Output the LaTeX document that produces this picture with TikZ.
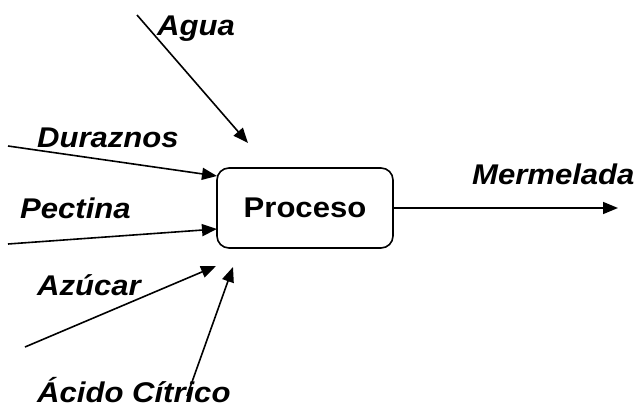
\documentclass[tikz,border=0pt]{standalone}
\usepackage{fontspec}
\setmainfont[FakeStretch=1.09]{Liberation Sans}
\usetikzlibrary{arrows.meta}
\begin{document}
\begin{tikzpicture}[x=1pt,y=-1pt,
  flow/.style={line width=1.6pt,-{Triangle[length=15pt,width=12pt]}},
  lbl/.style={anchor=base west,inner sep=0pt,font=\fontsize{28.5}{32}\selectfont\bfseries\itshape},
  procbox/.style={draw,line width=1.6pt,rounded corners=12pt,minimum width=176pt,minimum height=80pt,inner sep=0pt,font=\fontsize{28.5}{32}\selectfont\bfseries}]
\useasboundingbox (0,0) rectangle (638,407);
% process block
\node[procbox] (proc) at (305,208) {Proceso};
% arrow ends
\coordinate (aguaS) at (137,15);
\coordinate (aguaE) at (248,143);
\coordinate (durS) at (8,146);
\coordinate (durE) at (217,176);
\coordinate (pecS) at (8,244);
\coordinate (pecE) at (217,229);
\coordinate (azuS) at (25,347);
\coordinate (azuE) at (216,266);
\coordinate (acS) at (187,396);
\coordinate (acE) at (233,267);
\coordinate (merE) at (618,208);
% inputs
\draw[flow] (aguaS) -- (aguaE);
\draw[flow] (durS) -- (durE);
\draw[flow] (pecS) -- (pecE);
\draw[flow] (azuS) -- (azuE);
\draw[flow] (acS) -- (acE);
% output
\draw[flow] (proc.east) -- (merE);
% labels
\node[lbl] (tagua) at (157,35) {Agua};
\node[lbl] (tdur) at (37,147) {Duraznos};
\node[lbl] (tpec) at (20,218) {Pectina};
\node[lbl] (tazu) at (37,295) {Azúcar};
\node[lbl] (tac) at (37,402) {Ácido Cítrico};
\node[lbl] (tmer) at (472,184) {Mermelada};
\end{tikzpicture}
\end{document}
